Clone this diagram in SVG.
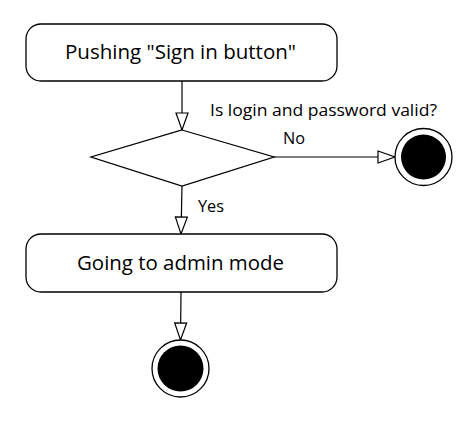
<svg xmlns="http://www.w3.org/2000/svg" width="474" height="421" viewBox="0 0 474 421">
<defs>
<style>
.box{fill:#fff;stroke:#000;stroke-width:1.3}
.ln{fill:none;stroke:#000;stroke-width:1.2}
.t{font-family:"Open Sans","Noto Sans",sans-serif;fill:#000}
</style>
<marker id="ah" markerWidth="20" markerHeight="14" refX="18" refY="7" orient="auto" markerUnits="userSpaceOnUse">
<path d="M1,1 L18,7 L1,13 Z" fill="#fff" stroke="#000" stroke-width="1.2"/>
</marker>
</defs>
<rect width="474" height="421" fill="#fff"/>
<g id="connectors">
<line class="ln" x1="182" y1="81" x2="182" y2="130" marker-end="url(#ah)"/>
<line class="ln" x1="274" y1="157" x2="395" y2="157" marker-end="url(#ah)"/>
<line class="ln" x1="182" y1="186" x2="181" y2="234" marker-end="url(#ah)"/>
<line class="ln" x1="181" y1="292" x2="180.5" y2="340" marker-end="url(#ah)"/>
<text class="t" x="283" y="144" font-size="16" textLength="22" lengthAdjust="spacingAndGlyphs">No</text>
<text class="t" x="198" y="212" font-size="16" textLength="26" lengthAdjust="spacingAndGlyphs">Yes</text>
</g>
<g id="push">
<rect class="box" x="26" y="24" width="311" height="57" rx="15"/>
<text class="t" x="65" y="59" font-size="20.5" textLength="231" lengthAdjust="spacingAndGlyphs">Pushing "Sign in button"</text>
</g>
<g id="decision">
<polygon class="box" points="182,130 274,157 182,186 91,157"/>
<text class="t" x="210" y="116" font-size="16" textLength="227" lengthAdjust="spacingAndGlyphs">Is login and password valid?</text>
</g>
<g id="end1">
<circle cx="423.5" cy="157" r="28.5" fill="#fff" stroke="#000" stroke-width="1.3"/>
<circle cx="423.5" cy="157" r="22.5" fill="#000"/>
</g>
<g id="admin">
<rect class="box" x="26" y="234" width="311" height="58" rx="15"/>
<text class="t" x="77" y="270" font-size="20.5" textLength="207" lengthAdjust="spacingAndGlyphs">Going to admin mode</text>
</g>
<g id="end2">
<circle cx="180.5" cy="368.5" r="28.5" fill="#fff" stroke="#000" stroke-width="1.3"/>
<circle cx="180.5" cy="368.5" r="23" fill="#000"/>
</g>
</svg>
